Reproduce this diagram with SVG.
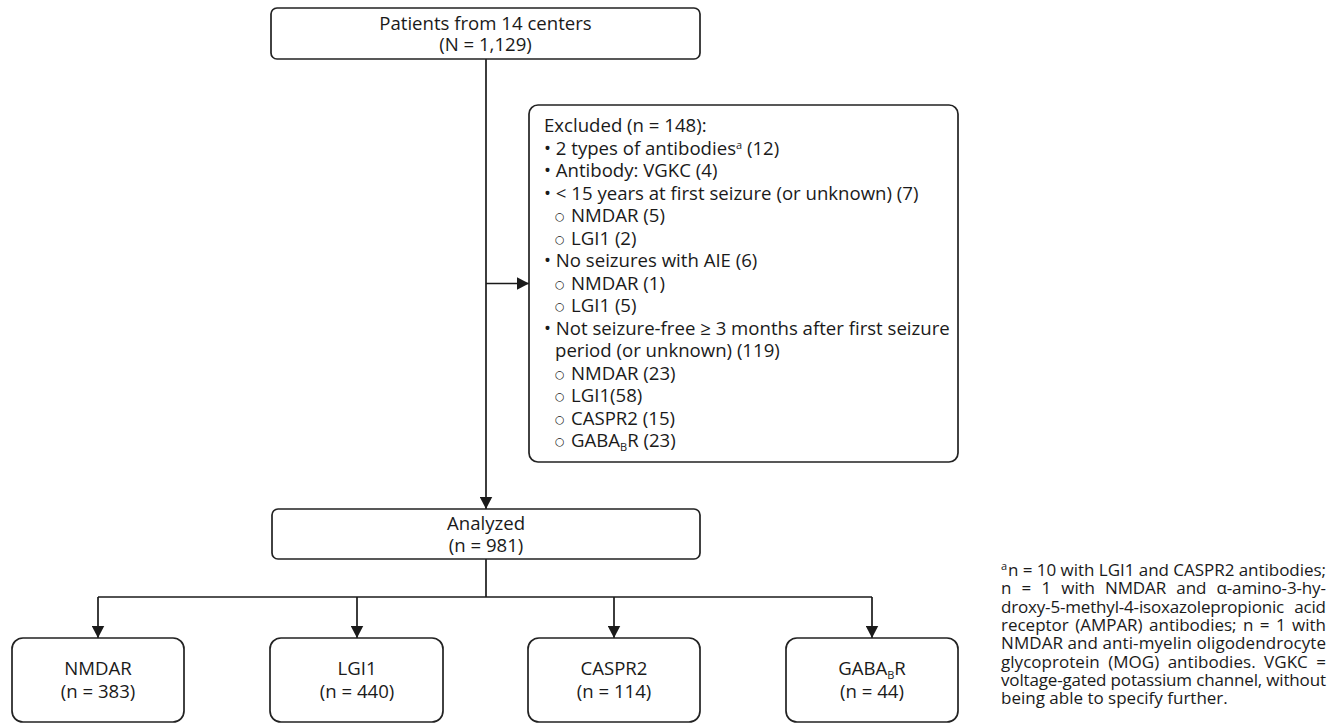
<svg xmlns="http://www.w3.org/2000/svg" width="1336" height="728" viewBox="0 0 1336 728">
<defs>
<marker id="arr" markerWidth="13" markerHeight="13" refX="12.5" refY="6.5" orient="auto" markerUnits="userSpaceOnUse">
<path d="M0,0 L12.5,6.5 L0,13 Z" fill="#1a1a1a"/>
</marker>
</defs>
<style>
.box{fill:#fff;stroke:#222;stroke-width:1.7}
.t{font-family:"Open Sans","Noto Sans","DejaVu Sans",sans-serif;font-size:18.6px;fill:#1a1a1a}
.c{text-anchor:middle}
.sub{font-size:11px}
.circ{font-family:"DejaVu Sans",sans-serif;font-size:11px;fill:#1a1a1a}
.fn{font-family:"Open Sans","Noto Sans",sans-serif;font-size:17px;fill:#1a1a1a}
.fsup{font-size:11px}
.ln{fill:none;stroke:#1a1a1a;stroke-width:1.7}
</style>
<rect width="1336" height="728" fill="#fff"/>
<g id="connectors">
<path class="ln" d="M486,59 V509" marker-end="url(#arr)"/>
<path class="ln" d="M486,283.5 H529" marker-end="url(#arr)"/>
<path class="ln" d="M486,559 V597"/>
<path class="ln" d="M98,597 H872"/>
<path class="ln" d="M98,597 V638" marker-end="url(#arr)"/>
<path class="ln" d="M357,597 V638" marker-end="url(#arr)"/>
<path class="ln" d="M614,597 V638" marker-end="url(#arr)"/>
<path class="ln" d="M872,597 V638" marker-end="url(#arr)"/>
</g>
<g id="patients">
<rect class="box" x="271" y="8" width="429" height="51" rx="6"/>
<text class="t c" x="485.5" y="29.5">Patients from 14 centers</text>
<text class="t c" x="485.5" y="51">(N = 1,129)</text>
</g>
<g id="excluded">
<rect class="box" x="529" y="105" width="429" height="357" rx="9"/>
<text class="t" x="544" y="132">Excluded (n = 148):</text>
<text class="t" x="544" y="154.5">• 2 types of antibodies<tspan class="sub" dy="-6">a</tspan><tspan dy="6"> (12)</tspan></text>
<text class="t" x="544" y="177">• Antibody: VGKC (4)</text>
<text class="t" x="544" y="199.5">• &lt; 15 years at first seizure (or unknown) (7)</text>
<text class="circ" x="555" y="220">○</text><text class="t" x="571" y="222">NMDAR (5)</text>
<text class="circ" x="555" y="242.5">○</text><text class="t" x="571" y="244.5">LGI1 (2)</text>
<text class="t" x="544" y="267">• No seizures with AIE (6)</text>
<text class="circ" x="555" y="287.5">○</text><text class="t" x="571" y="289.5">NMDAR (1)</text>
<text class="circ" x="555" y="310">○</text><text class="t" x="571" y="312">LGI1 (5)</text>
<text class="t" x="544" y="334.5">• Not seizure-free ≥ 3 months after first seizure</text>
<text class="t" x="555" y="357">period (or unknown) (119)</text>
<text class="circ" x="555" y="377.5">○</text><text class="t" x="571" y="379.5">NMDAR (23)</text>
<text class="circ" x="555" y="400">○</text><text class="t" x="571" y="402">LGI1(58)</text>
<text class="circ" x="555" y="422.5">○</text><text class="t" x="571" y="424.5">CASPR2 (15)</text>
<text class="circ" x="555" y="445">○</text><text class="t" x="571" y="447">GABA<tspan class="sub" dy="4">B</tspan><tspan dy="-4">R (23)</tspan></text>
</g>
<g id="analyzed">
<rect class="box" x="272" y="509" width="428" height="50" rx="6"/>
<text class="t c" x="486" y="530">Analyzed</text>
<text class="t c" x="486" y="552">(n = 981)</text>
</g>
<g id="nmdar">
<rect class="box" x="12" y="638" width="172" height="84" rx="11"/>
<text class="t c" x="98" y="675">NMDAR</text>
<text class="t c" x="98" y="697.5">(n = 383)</text>
</g>
<g id="lgi1">
<rect class="box" x="270" y="638" width="173" height="84" rx="11"/>
<text class="t c" x="357" y="675">LGI1</text>
<text class="t c" x="357" y="697.5">(n = 440)</text>
</g>
<g id="caspr2">
<rect class="box" x="528" y="638" width="172" height="84" rx="11"/>
<text class="t c" x="614" y="675">CASPR2</text>
<text class="t c" x="614" y="697.5">(n = 114)</text>
</g>
<g id="gabab">
<rect class="box" x="786" y="638" width="172" height="84" rx="11"/>
<text class="t c" x="872" y="675">GABA<tspan class="sub" dy="4">B</tspan><tspan dy="-4">R</tspan></text>
<text class="t c" x="872" y="697.5">(n = 44)</text>
</g>
<g id="footnote">
<text class="fn fsup" x="1001" y="570">a</text>
<text class="fn" x="1008" y="576" textLength="318" lengthAdjust="spacing">n = 10 with LGI1 and CASPR2 antibodies;</text>
<text class="fn" x="1001" y="594.3" textLength="325" lengthAdjust="spacing" word-spacing="6">n = 1 with NMDAR and α-amino-3-hy-</text>
<text class="fn" x="1001" y="612.6" textLength="325" lengthAdjust="spacing" word-spacing="6">droxy-5-methyl-4-isoxazolepropionic acid</text>
<text class="fn" x="1001" y="630.9" textLength="325" lengthAdjust="spacing" word-spacing="2">receptor (AMPAR) antibodies; n = 1 with</text>
<text class="fn" x="1001" y="649.2" textLength="325" lengthAdjust="spacing">NMDAR and anti-myelin oligodendrocyte</text>
<text class="fn" x="1001" y="667.5" textLength="325" lengthAdjust="spacing" word-spacing="4">glycoprotein (MOG) antibodies. VGKC =</text>
<text class="fn" x="1001" y="685.8" textLength="325" lengthAdjust="spacing">voltage-gated potassium channel, without</text>
<text class="fn" x="1001" y="704.1">being able to specify further.</text>
</g>
</svg>
